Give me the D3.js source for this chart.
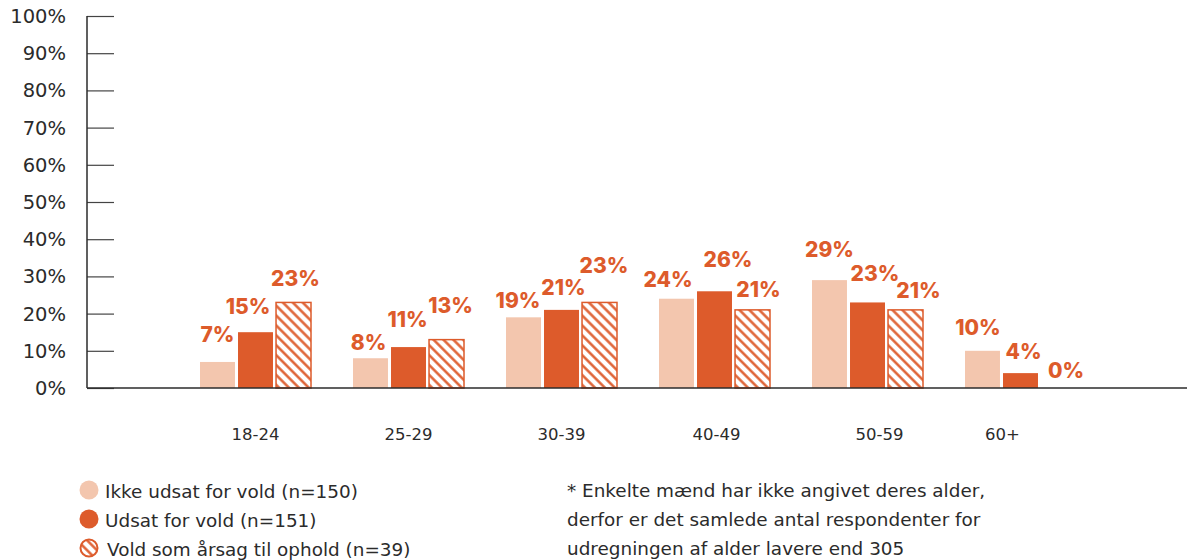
<!DOCTYPE html>
<html>
<head>
<meta charset="utf-8">
<script src="https://cdn.jsdelivr.net/npm/d3@7"></script>
<style>
  html, body { margin: 0; padding: 0; background: #fff; }
  svg { display: block; font-family: "DejaVu Sans", sans-serif; }
  .val { font-family: Inter, "DejaVu Sans", sans-serif; font-weight: 800; }
</style>
</head>
<body>
<svg id="chart" width="1187" height="560"></svg>
<script>
// data
const categories = ['18-24', '25-29', '30-39', '40-49', '50-59', '60+'];
const seriesNames = ['Ikke udsat for vold (n=150)', 'Udsat for vold (n=151)', 'Vold som årsag til ophold (n=39)'];
const ikkeUdsat = [7, 8, 19, 24, 29, 10];
const udsat = [15, 11, 21, 26, 23, 4];
const voldOphold = [23, 13, 23, 21, 21, 0];
const yTicks = [0, 10, 20, 30, 40, 50, 60, 70, 80, 90, 100];
const footnote = [
  '* Enkelte mænd har ikke angivet deres alder,',
  'derfor er det samlede antal respondenter for',
  'udregningen af alder lavere end 305'
];

const series = [ikkeUdsat, udsat, voldOphold];
const PEACH = '#f3c6ae', ORANGE = '#dd5b2b', INK = '#2b2b2b';
const fills = [PEACH, ORANGE, 'url(#hatch)'];

// the value labels in the source are hand placed, so nudge each one (px)
const labelDx = [[0, -2, -5.5, -8.5, 0, -4.5], [-7.5, -1, 2, 13.5, 7.5, 3], [2, 4, 4.5, 6, 13, 7.5]];
const labelDy = [[-20, -8, -9, -12, -23, -16], [-18, -20, -15, -24, -21, -14], [-16, -27, -29, -13, -12, -10]];

const svg = d3.select('#chart');

// hatch pattern
const defs = svg.append('defs');
const pat = defs.append('pattern')
  .attr('id', 'hatch').attr('patternUnits', 'userSpaceOnUse')
  .attr('width', 7).attr('height', 7)
  .attr('patternTransform', 'rotate(-45)');
pat.append('rect').attr('width', 7).attr('height', 7).attr('fill', '#fff');
pat.append('line').attr('x1', 1.5).attr('y1', 0).attr('x2', 1.5).attr('y2', 7)
  .attr('stroke', ORANGE).attr('stroke-width', 2.4);

// scales
const y = d3.scaleLinear().domain([0, 100]).range([388, 16]);
const x0 = d3.scaleBand().domain(categories).range([179, 1097]);
const x1 = d3.scaleBand().domain(d3.range(series.length)).range([-55.5, 55.5]).paddingInner(0.08);

// y axis
const yAxis = svg.append('g').attr('transform', 'translate(87,0)')
  .call(d3.axisRight(y).tickValues(yTicks).tickSize(27).tickFormat(''));
yAxis.select('.domain').remove();
yAxis.selectAll('.tick line').attr('stroke', '#444').attr('stroke-width', 1.2);
svg.append('line').attr('x1', 87).attr('x2', 87).attr('y1', y(100)).attr('y2', y(0))
  .attr('stroke', INK).attr('stroke-width', 1.5);
svg.append('g').selectAll('text').data(yTicks).join('text')
  .attr('x', 66).attr('y', d => y(d)).attr('dy', '0.36em')
  .attr('text-anchor', 'end').attr('font-size', 19.5).attr('fill', INK)
  .text(d => d + '%');

// bars
const groups = svg.append('g').selectAll('g').data(categories).join('g')
  .attr('transform', c => `translate(${x0(c) + x0.bandwidth() / 2},0)`);

groups.each(function (c, ci) {
  const g = d3.select(this);
  series.forEach((vals, si) => {
    const v = vals[ci];
    if (v > 0) {
      g.append('rect')
        .attr('x', x1(si)).attr('width', x1.bandwidth())
        .attr('y', y(v)).attr('height', y(0) - y(v))
        .attr('fill', fills[si])
        .attr('stroke', si === 2 ? ORANGE : 'none')
        .attr('stroke-width', si === 2 ? 1.5 : 0);
    }
    g.append('text').attr('class', 'val')
      .attr('x', x1(si) + x1.bandwidth() / 2 + labelDx[si][ci])
      .attr('y', y(v) + labelDy[si][ci])
      .attr('text-anchor', 'middle').attr('font-size', 21)
      .attr('fill', ORANGE)
      .text(v + '%');
  });
});

// x axis line (drawn over bar bottoms)
svg.append('line').attr('x1', 87).attr('x2', 1187).attr('y1', y(0)).attr('y2', y(0))
  .attr('stroke', INK).attr('stroke-width', 1.5);

// category labels (the source nudges the last ones a bit)
const labelNudge = { '40-49': 2, '50-59': 12, '60+': -18 };
svg.append('g').selectAll('text').data(categories).join('text')
  .attr('x', c => x0(c) + x0.bandwidth() / 2 + (labelNudge[c] || 0))
  .attr('y', 440).attr('text-anchor', 'middle')
  .attr('font-size', 16.5).attr('fill', INK)
  .text(c => c);

// legend
const legend = svg.append('g');
seriesNames.forEach((name, i) => {
  const cy = 490 + i * 29;
  legend.append('circle').attr('cx', 89).attr('cy', cy).attr('r', i === 2 ? 8.5 : 9.5)
    .attr('fill', fills[i])
    .attr('stroke', i === 2 ? ORANGE : 'none').attr('stroke-width', i === 2 ? 2 : 0);
  legend.append('text').attr('x', i === 2 ? 107 : 105).attr('y', cy + 8)
    .attr('font-size', 18.4).attr('fill', INK).text(name);
});

// footnote
svg.append('g').selectAll('text').data(footnote).join('text')
  .attr('x', 567).attr('y', (d, i) => 497 + i * 29)
  .attr('font-size', 18.4).attr('fill', INK).text(d => d);
</script>
</body>
</html>
